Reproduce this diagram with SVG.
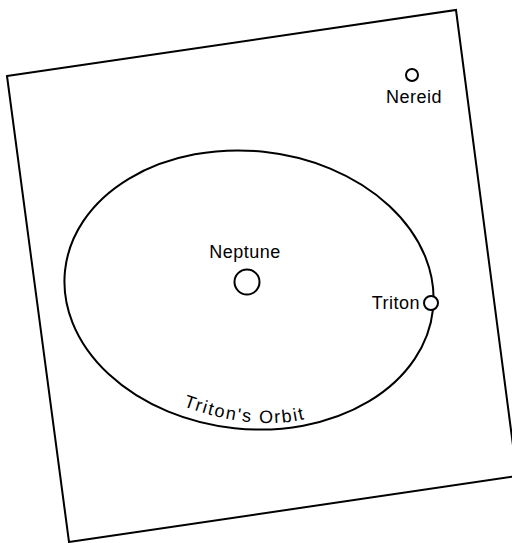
<svg xmlns="http://www.w3.org/2000/svg" width="512" height="543" viewBox="0 0 512 543">
<style>
.ln{fill:none;stroke:#000;stroke-width:2}
.body{fill:#fff;stroke:#000;stroke-width:2}
.lb{font-family:"Liberation Sans",Arial,sans-serif;font-size:18px;fill:#000;letter-spacing:0.5px}
.orbit-lb{letter-spacing:1.7px}
</style>
<defs><path id="orbitTextPath" d="M180,405 Q262,436 322,414"/></defs>
<rect width="512" height="543" fill="#fff"/>
<g id="frame"><polygon class="ln" points="7,76 456,10 517,476 69,542"/></g>
<g id="connectors"><ellipse id="orbit" class="ln" cx="249" cy="290" rx="185" ry="139" transform="rotate(6 249 290)"/></g>
<g id="neptune"><circle class="body" cx="247" cy="282" r="12.5"/><text class="lb" x="245" y="258" text-anchor="middle">Neptune</text></g>
<g id="triton"><circle class="body" cx="431" cy="303" r="7"/><text class="lb" x="420" y="309" text-anchor="end">Triton</text></g>
<g id="nereid"><circle class="body" cx="412" cy="75" r="6"/><text class="lb" x="414" y="103" text-anchor="middle">Nereid</text></g>
<g id="orbit-label"><text class="lb orbit-lb"><textPath href="#orbitTextPath" startOffset="3">Triton's Orbit</textPath></text></g>
</svg>
